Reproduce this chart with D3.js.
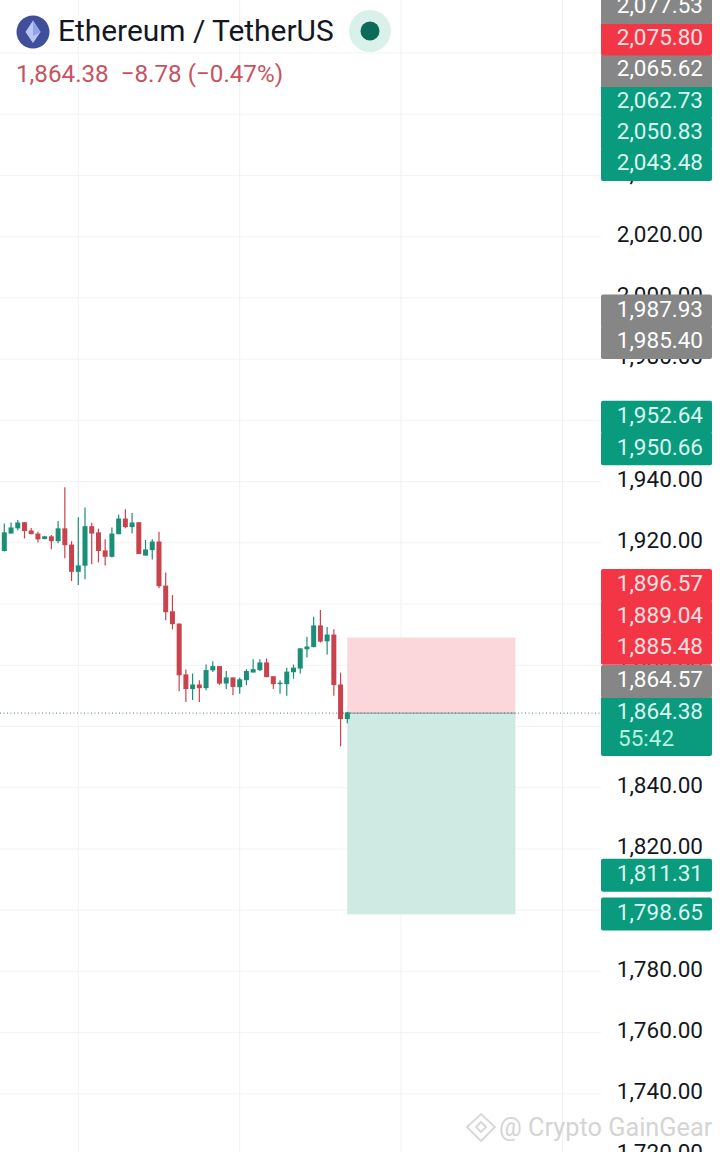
<!DOCTYPE html>
<html><head><meta charset="utf-8">
<script src="https://cdn.jsdelivr.net/npm/d3@7/dist/d3.min.js"></script>
<style>html,body{margin:0;padding:0;background:#fff;overflow:hidden}svg{display:block;font-family:Roboto,sans-serif}</style>
</head><body><svg id="c" width="720" height="1152"></svg>
<script>
const opens  = [1917.1,1922.8,1924.5,1926.5,1923.8,1922.8,1921,1921.9,1920.3,1924.5,1919.2,1910.3,1912.3,1925.2,1923.2,1917.3,1915.2,1922.6,1927.7,1924.9,1926.5,1915.6,1917.4,1920.2,1905.8,1897.4,1893.4,1876.8,1872,1873.5,1872.3,1878.1,1879.5,1873.8,1875.8,1872.6,1874.9,1877.4,1878.2,1880.7,1876.2,1873.6,1873.6,1877.5,1878.7,1885,1885.7,1892.8,1887.6,1889.8,1873.5,1862.2];
const closes = [1923.2,1924.8,1926.4,1923.6,1922.6,1920.9,1921.9,1920.3,1924.5,1919,1910.3,1912.4,1925.2,1922.8,1917.1,1915.2,1922.8,1927.7,1924.9,1926.4,1916.1,1917.6,1920.2,1905.6,1897.1,1893.2,1876.5,1872,1873.5,1872.3,1878.2,1879.5,1873.8,1875.8,1872.7,1875.2,1877.9,1878.5,1880.7,1875.9,1873.6,1874.1,1877.7,1879,1885.3,1885.9,1892.8,1887.5,1889.8,1873.3,1862.2,1864.38];
const highs  = [1926.1,1926.4,1927.2,1926.5,1924.6,1923.4,1922.1,1922.3,1926.9,1937.9,1920.3,1928.1,1931.3,1926.3,1924.4,1920.9,1924.8,1929,1930.7,1929.5,1926.5,1920.7,1920.9,1923.4,1910.1,1902.7,1893.4,1878.4,1877.1,1874.9,1880,1881.1,1879.5,1877.9,1875.8,1875.8,1878.5,1881.7,1881.7,1882,1876.2,1874.9,1879,1880,1885.3,1889.1,1895.6,1897.8,1892.3,1891.5,1877.4,1864.6];
const lows   = [1916.9,1922.8,1923.9,1921.2,1922.6,1919.9,1920.9,1917.7,1919.6,1914.7,1907.3,1906,1907.9,1912.8,1913.4,1912.4,1915,1922.6,1924.5,1922.8,1916.1,1915.6,1914.3,1904.9,1894.5,1891.5,1871.3,1867.8,1868.4,1867.8,1871.6,1877.6,1873.3,1872,1870,1870.5,1873.3,1877.4,1877.9,1875.9,1872,1870.5,1869.8,1875.4,1877.1,1882.3,1885.7,1887.2,1883.3,1869.8,1853.3,1860.8];
const tickValues = [1720,1740,1760,1780,1800,1820,1840,1860,1880,1900,1920,1940,1960,1980,2000,2020,2040,2060,2080];
const gridIndexes = [11,35,59,83];
const tagPrices = [1798.65,1811.31,1864.38,1864.57,1885.48,1889.04,1896.57,1950.66,1952.64,1985.40,1987.93,2043.48,2050.83,2062.73,2065.62,2075.80,2077.53];
const tagKinds  = ["g","g","g","n","r","r","r","g","g","n","n","g","g","g","n","r","n"];
const lastPrice = 1864.38, stopPrice = 1889.04, targetPrice = 1798.65;
const boxStart = 51, boxEnd = 76;
const countdown = "55:42";
const titleText = "Ethereum / TetherUS";
const quoteText = "1,864.38  \u22128.78 (\u22120.47%)";
const watermarkText = "@ Crypto GainGear";

const UP="#1a8f78", DOWN="#c9434f", AXIS_X=601, LABEL=22.5;
const svg=d3.select("#c");
const y=d3.scaleLinear().domain([1720,2080]).range([1155.1,53]);
const x=d3.scaleLinear().domain([0,51]).range([4.3,347.3]);
const fmt=d3.format(",.2f");

// grid
svg.append("g").selectAll("line").data(tickValues.concat([2100])).join("line")
 .attr("x1",0).attr("x2",AXIS_X).attr("y1",d=>y(d)).attr("y2",d=>y(d)).attr("stroke","#f3f3f3");
svg.append("g").selectAll("line").data(gridIndexes).join("line")
 .attr("x1",d=>x(d)).attr("x2",d=>x(d)).attr("y1",0).attr("y2",1152).attr("stroke","#f1f1f1");

// position box
svg.append("rect").attr("x",x(boxStart)).attr("width",x(boxEnd)-x(boxStart)).attr("y",y(stopPrice)).attr("height",y(lastPrice)-y(stopPrice)).attr("fill","#fbd6db");
svg.append("rect").attr("x",x(boxStart)).attr("width",x(boxEnd)-x(boxStart)).attr("y",y(lastPrice)).attr("height",y(targetPrice)-y(lastPrice)).attr("fill","#cfe9e3");
svg.append("line").attr("x1",x(boxStart)).attr("x2",x(boxEnd)).attr("y1",y(lastPrice)).attr("y2",y(lastPrice)).attr("stroke","#7f9c96").attr("stroke-width",1);

// last price line
svg.append("line").attr("x1",0).attr("x2",AXIS_X).attr("y1",y(lastPrice)).attr("y2",y(lastPrice))
 .attr("stroke","#4d7f76").attr("stroke-width",1).attr("stroke-dasharray","1 2.5");

// candles
const idx=d3.range(opens.length);
const col=i=>closes[i]>=opens[i]?UP:DOWN;
const cg=svg.append("g").attr("transform","translate(0,-0.7)");
cg.append("g").selectAll("line").data(idx).join("line")
 .attr("x1",i=>x(i)).attr("x2",i=>x(i)).attr("y1",i=>y(highs[i])).attr("y2",i=>y(lows[i]))
 .attr("stroke",col).attr("stroke-width",1.2);
cg.append("g").selectAll("rect").data(idx).join("rect")
 .attr("x",i=>x(i)-2.5).attr("width",5)
 .attr("y",i=>y(Math.max(opens[i],closes[i])))
 .attr("height",i=>Math.max(1.5,Math.abs(y(opens[i])-y(closes[i]))))
 .attr("fill",col);

// axis
const axis=d3.axisRight(y).tickValues(tickValues).tickSize(0).tickPadding(0).tickFormat(fmt);
const ag=svg.append("g").attr("transform","translate(703,-3.2)").call(axis);
ag.select(".domain").remove();
ag.selectAll("text").attr("text-anchor","end").attr("font-family","Roboto,sans-serif").attr("font-size",LABEL).attr("fill","#131722").attr("dy","0.35em");

// price tags: stacked from the bottom so that they never overlap
const STEP=31.4, fills={g:"#0a9a7e",r:"#f23645",n:"#868686"}, inks={g:"#d9f7ee",r:"#fde0e2",n:"#ffffff"};
let prev=Infinity;
const tags=tagPrices.map((p,i)=>{const c=Math.min(y(p)-2.2,prev-STEP);prev=c;return {p,k:tagKinds[i],c};});
const tg=svg.append("g");
tg.selectAll("rect").data(tags).join("rect")
 .attr("x",AXIS_X).attr("width",111)
 .attr("y",d=>d.c-14.5)
 .attr("height",d=>d.p===lastPrice?59.5:33)
 .attr("rx",2).attr("fill",d=>fills[d.k]);
tg.selectAll("text").data(tags).join("text")
 .attr("x",703).attr("y",d=>d.c).attr("dy","0.35em").attr("text-anchor","end")
 .attr("font-size",LABEL).attr("fill",d=>inks[d.k]).text(d=>fmt(d.p));
svg.append("text").attr("x",618).attr("y",y(lastPrice)-2.2+27).attr("dy","0.35em")
 .attr("font-size",LABEL).attr("fill","#b5f2df").text(countdown);

// header
svg.append("circle").attr("cx",33).attr("cy",32).attr("r",16.5).attr("fill","#414f9b");
svg.append("path").attr("d","M33 20.5L40.5 32L33 43L25.5 32Z").attr("fill","#b9c7f3");
svg.append("path").attr("d","M33 20.5L40.5 32L33 36Z").attr("fill","#8fa3ea");
svg.append("text").attr("x",58).attr("y",40.5).attr("font-size",29.9).attr("fill","#131722").text(titleText);
svg.append("circle").attr("cx",370).attr("cy",31).attr("r",21).attr("fill","#d9f0eb");
svg.append("circle").attr("cx",370).attr("cy",31).attr("r",9.5).attr("fill","#0b6b58");
svg.append("text").attr("x",16).attr("y",82).attr("font-size",24.2).attr("fill","#c9525f").attr("xml:space","preserve").style("white-space","pre").text(quoteText);

// watermark
const wm=svg.append("g").attr("fill","none").attr("stroke","#d9d9d9").attr("stroke-width",2);
wm.append("path").attr("d","M481 1114L495 1127L481 1141L467 1127Z");
wm.append("path").attr("d","M481 1122L486 1127L481 1132L476 1127Z");
svg.append("text").attr("x",499).attr("y",1136).attr("font-size",25.3).attr("fill","#d4d4d4").text(watermarkText);
</script></body></html>
